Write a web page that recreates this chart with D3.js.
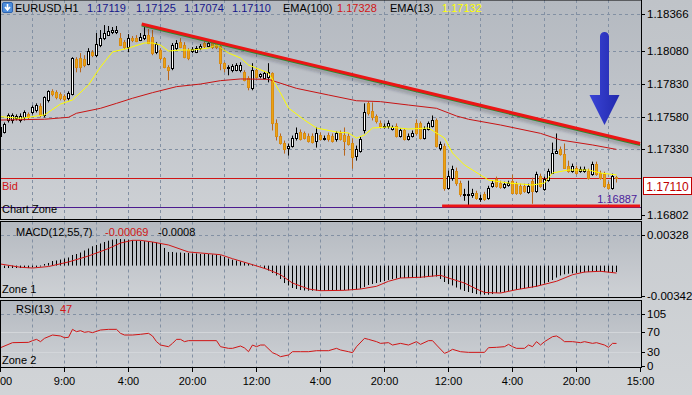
<!DOCTYPE html>
<html>
<head>
<meta charset="utf-8">
<script src="https://cdn.jsdelivr.net/npm/d3@7"></script>
<style>
  body { margin: 0; background: #c6c9cd; }
  svg text { font-family: "Liberation Sans", Arial, sans-serif; font-size: 11px; }
</style>
</head>
<body>
<svg id="chart" width="692" height="395"></svg>
<script>
// EURUSD H1 candles, oldest first (bar index = position)
const openP = [1.17434,1.17465,1.17550,1.17550,1.17565,1.17550,1.17573,1.17596,1.17611,1.17627,1.17658,1.17588,1.17704,1.17773,1.17765,1.17750,1.17735,1.17719,1.17750,1.18020,
  1.18027,1.18020,1.17981,1.18073,1.18050,1.18127,1.18181,1.18204,1.18227,1.18227,1.18181,1.18150,1.18112,1.18181,1.18181,1.18166,1.18181,1.18204,1.18189,1.18073,
  1.18089,1.18027,1.17958,1.17950,1.18104,1.18150,1.18127,1.18089,1.18081,1.18073,1.18104,1.18143,1.18120,1.18143,1.18135,1.18120,1.17989,1.17950,1.17935,1.17935,
  1.17935,1.17919,1.17873,1.17796,1.17935,1.17889,1.17873,1.17881,1.17912,1.17534,1.17434,1.17380,1.17342,1.17357,1.17419,1.17465,1.17450,1.17434,1.17434,1.17396,
  1.17442,1.17411,1.17442,1.17434,1.17404,1.17457,1.17442,1.17434,1.17380,1.17280,1.17319,1.17473,1.17681,1.17619,1.17581,1.17534,1.17496,1.17504,1.17488,1.17511,
  1.17434,1.17473,1.17411,1.17434,1.17534,1.17527,1.17419,1.17488,1.17511,1.17550,1.17342,1.17357,1.17034,1.17111,1.17165,1.17072,1.16980,1.16980,1.16980,1.16995,
  1.16949,1.16988,1.16957,1.17049,1.17103,1.17072,1.17042,1.17057,1.17088,1.17065,1.17049,1.17049,1.17003,1.17088,1.17011,1.17126,1.17026,1.17096,1.17149,1.17303,
  1.17334,1.17296,1.17203,1.17165,1.17188,1.17165,1.17165,1.17165,1.17142,1.17219,1.17149,1.17142,1.17065,1.17034,1.17119];
const highP = [1.17511,1.17534,1.17604,1.17604,1.17596,1.17604,1.17627,1.17611,1.17665,1.17681,1.17681,1.17735,1.17781,1.17789,1.17781,1.17765,1.17750,1.17773,1.18035,1.18035,
  1.18066,1.18050,1.18104,1.18089,1.18220,1.18243,1.18281,1.18274,1.18266,1.18274,1.18220,1.18166,1.18212,1.18197,1.18204,1.18220,1.18266,1.18251,1.18243,1.18150,
  1.18104,1.18035,1.17973,1.18143,1.18166,1.18181,1.18150,1.18104,1.18112,1.18120,1.18135,1.18158,1.18158,1.18158,1.18150,1.18135,1.17996,1.17973,1.17981,1.17989,
  1.17996,1.17935,1.17889,1.17989,1.17950,1.17912,1.17927,1.17989,1.17919,1.17558,1.17450,1.17396,1.17373,1.17434,1.17496,1.17481,1.17465,1.17450,1.17450,1.17496,
  1.17457,1.17434,1.17457,1.17450,1.17465,1.17473,1.17496,1.17450,1.17411,1.17357,1.17427,1.17681,1.17696,1.17688,1.17596,1.17550,1.17527,1.17550,1.17511,1.17527,
  1.17488,1.17488,1.17450,1.17473,1.17558,1.17542,1.17504,1.17542,1.17588,1.17565,1.17388,1.17373,1.17165,1.17203,1.17188,1.17088,1.17026,1.17088,1.17026,1.17011,
  1.16980,1.17003,1.17049,1.17088,1.17119,1.17088,1.17080,1.17088,1.17134,1.17080,1.17065,1.17065,1.17065,1.17111,1.17157,1.17142,1.17119,1.17180,1.17380,1.17450,
  1.17350,1.17373,1.17242,1.17219,1.17203,1.17196,1.17196,1.17180,1.17234,1.17234,1.17165,1.17157,1.17080,1.17142,1.17125];
const lowP = [1.17419,1.17450,1.17534,1.17527,1.17550,1.17534,1.17550,1.17558,1.17596,1.17611,1.17573,1.17573,1.17688,1.17735,1.17712,1.17704,1.17696,1.17704,1.17742,1.17919,
  1.17919,1.17958,1.17973,1.18035,1.18035,1.18112,1.18166,1.18197,1.18212,1.18212,1.18120,1.18097,1.18073,1.18150,1.18150,1.18158,1.18166,1.18135,1.18050,1.18058,
  1.18012,1.17950,1.17858,1.17935,1.18089,1.18104,1.18027,1.18012,1.18066,1.18066,1.18089,1.18104,1.18112,1.18097,1.18097,1.17935,1.17919,1.17896,1.17919,1.17927,
  1.17919,1.17850,1.17781,1.17781,1.17873,1.17873,1.17866,1.17842,1.17473,1.17396,1.17365,1.17296,1.17280,1.17342,1.17396,1.17396,1.17404,1.17380,1.17373,1.17342,
  1.17396,1.17396,1.17388,1.17380,1.17388,1.17396,1.17280,1.17357,1.17180,1.17242,1.17303,1.17450,1.17588,1.17550,1.17527,1.17488,1.17488,1.17488,1.17473,1.17419,
  1.17419,1.17396,1.17396,1.17419,1.17434,1.17404,1.17404,1.17473,1.17496,1.17342,1.17319,1.17011,1.17019,1.17088,1.17049,1.16965,1.16934,1.16895,1.16957,1.16942,
  1.16926,1.16934,1.16942,1.17034,1.17034,1.17026,1.17026,1.17042,1.16988,1.16980,1.16980,1.16995,1.16988,1.16911,1.16995,1.17034,1.17011,1.17080,1.17142,1.17296,
  1.17280,1.17180,1.17149,1.17149,1.17134,1.17149,1.17149,1.17096,1.17126,1.17126,1.17096,1.17034,1.17019,1.17019,1.17074];
const closeP = [1.17496,1.17519,1.17588,1.17588,1.17581,1.17581,1.17611,1.17573,1.17650,1.17665,1.17588,1.17727,1.17773,1.17750,1.17727,1.17719,1.17712,1.17758,1.18027,1.17958,
  1.17958,1.17973,1.18081,1.18050,1.18135,1.18181,1.18220,1.18235,1.18243,1.18243,1.18127,1.18112,1.18181,1.18166,1.18158,1.18189,1.18204,1.18143,1.18066,1.18135,
  1.18027,1.17958,1.17935,1.18127,1.18143,1.18112,1.18035,1.18027,1.18097,1.18104,1.18120,1.18120,1.18143,1.18112,1.18112,1.17989,1.17950,1.17958,1.17966,1.17973,
  1.17973,1.17858,1.17804,1.17935,1.17881,1.17904,1.17912,1.17919,1.17534,1.17434,1.17380,1.17334,1.17357,1.17419,1.17457,1.17411,1.17419,1.17396,1.17388,1.17450,
  1.17411,1.17419,1.17404,1.17396,1.17450,1.17411,1.17396,1.17373,1.17273,1.17334,1.17411,1.17611,1.17604,1.17573,1.17542,1.17504,1.17511,1.17534,1.17496,1.17434,
  1.17473,1.17411,1.17434,1.17457,1.17450,1.17419,1.17488,1.17527,1.17550,1.17357,1.17373,1.17034,1.17126,1.17180,1.17072,1.16988,1.16988,1.16988,1.16995,1.16957,
  1.16957,1.16949,1.17034,1.17072,1.17049,1.17042,1.17065,1.17072,1.16995,1.16995,1.16995,1.17011,1.17049,1.17011,1.17142,1.17049,1.17103,1.17165,1.17303,1.17319,
  1.17296,1.17188,1.17165,1.17203,1.17149,1.17180,1.17180,1.17111,1.17219,1.17142,1.17111,1.17049,1.17034,1.17126,1.17110];

// moving averages (bar index, price)
const ema100Bars = [0,11,17,19,25,29,33,38,44,50,55,60,67,74,82,89,95,102,109,114,117,125,135,140,148,154];
const ema100Vals = [1.17553,1.17559,1.17574,1.17605,1.17643,1.17681,1.17720,1.17763,1.17809,1.17829,1.17855,1.17868,1.17865,1.17796,1.17745,1.17701,1.17694,1.17668,1.17643,1.17584,1.17559,1.17515,1.17451,1.17400,1.17362,1.17328];
const ema13Bars = [0,5,11,15,18,22,25,28,32,36,38,40,42,45,48,52,54,57,60,62,67,70,72,76,79,84,87,89,91,93,97,102,107,111,113,116,118,122,127,133,136,138,142,147,150,154];
const ema13Vals = [1.17579,1.17566,1.17592,1.17676,1.17707,1.17822,1.17960,1.18075,1.18105,1.18144,1.18144,1.18128,1.18082,1.18090,1.18090,1.18105,1.18128,1.18067,1.18029,1.17975,1.17914,1.17760,1.17645,1.17553,1.17492,1.17461,1.17454,1.17415,1.17438,1.17492,1.17500,1.17484,1.17492,1.17415,1.17300,1.17208,1.17170,1.17093,1.17070,1.17055,1.17070,1.17147,1.17170,1.17170,1.17147,1.17132];

// MACD(12,55,7): main line drawn as histogram, one value per bar
const macdMain = [-0.00020,-0.00026,-0.00026,-0.00026,-0.00026,-0.00026,-0.00026,-0.00026,-0.00020,-0.00015,-0.00010,0.00017,0.00028,0.00049,0.00055,0.00065,0.00076,0.00087,0.00114,0.00124,
  0.00140,0.00162,0.00183,0.00207,0.00221,0.00237,0.00253,0.00267,0.00278,0.00283,0.00285,0.00282,0.00278,0.00271,0.00269,0.00266,0.00262,0.00258,0.00253,0.00248,
  0.00242,0.00189,0.00146,0.00146,0.00140,0.00140,0.00135,0.00135,0.00130,0.00130,0.00124,0.00124,0.00124,0.00119,0.00117,0.00108,0.00092,0.00076,0.00063,0.00055,
  0.00044,0.00033,0.00024,0.00012,0.00003,-0.00008,-0.00031,-0.00053,-0.00079,-0.00106,-0.00144,-0.00187,-0.00213,-0.00240,-0.00251,-0.00262,-0.00267,-0.00269,-0.00269,-0.00269,
  -0.00269,-0.00269,-0.00267,-0.00267,-0.00265,-0.00265,-0.00263,-0.00263,-0.00263,-0.00256,-0.00246,-0.00229,-0.00208,-0.00197,-0.00187,-0.00176,-0.00165,-0.00154,-0.00144,-0.00138,
  -0.00133,-0.00133,-0.00133,-0.00133,-0.00133,-0.00133,-0.00128,-0.00122,-0.00117,-0.00117,-0.00144,-0.00176,-0.00197,-0.00213,-0.00235,-0.00256,-0.00272,-0.00283,-0.00294,-0.00305,
  -0.00310,-0.00312,-0.00312,-0.00305,-0.00294,-0.00288,-0.00283,-0.00272,-0.00267,-0.00259,-0.00251,-0.00245,-0.00240,-0.00235,-0.00226,-0.00208,-0.00192,-0.00176,-0.00154,-0.00128,
  -0.00106,-0.00093,-0.00087,-0.00083,-0.00079,-0.00076,-0.00072,-0.00069,-0.00065,-0.00065,-0.00065,-0.00069,-0.00072,-0.00074,-0.00069];
const signalBars = [0,5,8,12,17,22,27,30,33,35,38,42,47,52,55,58,63,67,70,73,77,80,86,90,94,97,100,105,110,112,116,119,121,125,129,134,139,143,146,150,154];
const signalVals = [0.00017,-0.00018,-0.00026,-0.00010,0.00039,0.00103,0.00183,0.00242,0.00271,0.00271,0.00253,0.00221,0.00146,0.00128,0.00117,0.00074,0.00010,-0.00044,-0.00098,-0.00187,
  -0.00251,-0.00269,-0.00265,-0.00251,-0.00222,-0.00168,-0.00133,-0.00125,-0.00104,-0.00133,-0.00187,-0.00251,-0.00288,-0.00294,-0.00258,-0.00222,-0.00168,-0.00098,-0.00069,-0.00061,-0.00080];

// RSI(13)
const rsiBars = [0,3,7,8,9,10,11,13,15,16,17,18,19,20,21,22,23,25,27,29,30,31,33,35,37,38,39,40,42,43,44,45,46,47,54,55,57,58,60,61,62,63,64,65,66,68,69,70,72,73,75,77,79,82,84,85,87,88,89,91,92,94,95,97,98,100,102,104,105,107,108,109,111,112,113,115,117,121,122,124,126,127,128,129,131,132,133,134,135,136,138,139,140,141,143,145,146,148,149,151,152,153,154];
const rsiVals = [38.5,48.5,49.1,52.5,55.1,50.5,57.1,63.7,61.8,58.4,59.1,75,70.4,72.4,69.1,70.4,68.4,73.7,75,75,67.1,63.7,63.7,65.1,67.1,61.8,50.5,43.8,40.5,47.1,55.1,55.1,50.5,52.5,52.5,40.5,37.2,37.2,41.8,38,30.5,43.8,40.5,43.8,43.8,28.5,25.2,20.6,23.9,30.5,30.5,30.5,32.5,32.5,37.2,33.9,30.5,28.5,40.5,57.1,55.1,50.5,47.1,48.5,43.8,47.1,43.8,50.5,45.1,52.5,52.5,43.8,27.2,30.5,35.2,30.5,29.2,29.2,38.5,39.2,40.5,45.1,40.5,37.2,37.2,43.8,40.5,50.5,43.8,50.5,60.4,61.8,57.1,50.5,50.5,48.5,50.5,47.1,48.5,43.8,39.2,47.1,47];

// axis labels (the first time label is clipped by the window in the original, only "00" shows)
const priceTicks = [1.18366, 1.18080, 1.17830, 1.17580, 1.17330, 1.16802];
const macdTicks = [0.00328, -0.00342];
const rsiTicks = [105, 70, 30, 0];
const timeLabels = ["00", "9:00", "4:00", "20:00", "12:00", "4:00", "20:00", "12:00", "4:00", "20:00", "15:00"];
const timeLabelBars = [0, 16, 32, 48, 64, 80, 96, 112, 128, 144, 160];

// drawn objects
const bidPrice = 1.17110;
const zonePrice = 1.16887;
const trendLine = [{bar: 35.3, price: 1.18289}, {bar: 159.9, price: 1.17373}];
const supportLine = [{bar: 110.4, price: 1.16894}, {bar: 159.9, price: 1.16894}];
const arrow = {bar: 151, top: 1.18228, neck: 1.17745, tip: 1.17515};

const bearFill = "#e9a416", bearStroke = "#b8661c";
const gridColor = "#8290a3";
const red = "#d01515";

const chart = d3.select("#chart");
const defs = chart.append("defs");

const bgGrad = defs.append("linearGradient").attr("id", "bgGrad").attr("x1", 0).attr("y1", 0).attr("x2", 0).attr("y2", 1);
bgGrad.append("stop").attr("offset", "0%").attr("stop-color", "#bfc3c8");
bgGrad.append("stop").attr("offset", "100%").attr("stop-color", "#d1d4d7");
const panelGrad = defs.append("linearGradient").attr("id", "panelGrad").attr("x1", 0).attr("y1", 0).attr("x2", 0).attr("y2", 1);
panelGrad.append("stop").attr("offset", "0%").attr("stop-color", "#b4b9c0");
panelGrad.append("stop").attr("offset", "100%").attr("stop-color", "#ced1d5");
const arrowGrad = defs.append("linearGradient").attr("id", "arrowGrad").attr("x1", 0).attr("y1", 0).attr("x2", 1).attr("y2", 0);
arrowGrad.append("stop").attr("offset", "0%").attr("stop-color", "#3a44d6");
arrowGrad.append("stop").attr("offset", "100%").attr("stop-color", "#2229ad");
defs.append("clipPath").attr("id", "clipMain").append("rect").attr("x", 1).attr("y", 0).attr("width", 640).attr("height", 219);
defs.append("clipPath").attr("id", "clipMacd").append("rect").attr("x", 1).attr("y", 222).attr("width", 640).attr("height", 75);
defs.append("clipPath").attr("id", "clipRsi").append("rect").attr("x", 1).attr("y", 301).attr("width", 640).attr("height", 66);
const blur = defs.append("filter").attr("id", "soft").attr("x", "-10%").attr("y", "-50%").attr("width", "120%").attr("height", "200%");
blur.append("feGaussianBlur").attr("stdDeviation", 1.5);

chart.append("rect").attr("width", 692).attr("height", 395).attr("fill", "url(#bgGrad)");

// scales
const x = d3.scaleLinear().domain([0, 160]).range([0.5, 640.5]);
const yP = d3.scaleLinear().domain([1.16802, 1.18366]).range([218, 14]);
const yM = d3.scaleLinear().domain([-0.00342, 0.00328]).range([297.5, 235]);
const yR = d3.scaleLinear().domain([0, 105]).range([367, 314.3]);

const panels = [
  {top: 0, bottom: 219.5},
  {top: 221.5, bottom: 297.5},
  {top: 300.5, bottom: 367.5}
];
panels.forEach(p => {
  chart.append("rect").attr("x", 0.5).attr("y", p.top).attr("width", 641).attr("height", p.bottom - p.top)
    .attr("fill", "url(#panelGrad)");
});

// vertical grid
const gridBars = d3.range(8, 160, 8);
panels.forEach(p => {
  chart.append("g").selectAll("line").data(gridBars).join("line")
    .attr("x1", d => x(d)).attr("x2", d => x(d))
    .attr("y1", p.top).attr("y2", p.bottom)
    .attr("stroke", gridColor).attr("stroke-dasharray", "3,3");
});

// horizontal grid
const hGrid = chart.append("g").attr("stroke", gridColor).attr("stroke-dasharray", "3,3");
priceTicks.slice(0, 5).forEach(v => hGrid.append("line").attr("x1", 1).attr("x2", 641)
  .attr("y1", Math.round(yP(v)) + 0.5).attr("y2", Math.round(yP(v)) + 0.5));
hGrid.append("line").attr("x1", 1).attr("x2", 641).attr("y1", Math.round(yM(macdTicks[0])) + 0.5).attr("y2", Math.round(yM(macdTicks[0])) + 0.5);
hGrid.append("line").attr("x1", 1).attr("x2", 641).attr("y1", Math.round(yR(105)) + 0.5).attr("y2", Math.round(yR(105)) + 0.5);
[70, 30].forEach(v => chart.append("line").attr("x1", 1).attr("x2", 641)
  .attr("y1", Math.round(yR(v)) + 0.5).attr("y2", Math.round(yR(v)) + 0.5).attr("stroke", "#d3d6da"));

// ---- main panel ----
const mainG = chart.append("g").attr("clip-path", "url(#clipMain)");

mainG.append("line").attr("x1", 1).attr("x2", 641)
  .attr("y1", Math.round(yP(bidPrice)) + 0.5).attr("y2", Math.round(yP(bidPrice)) + 0.5).attr("stroke", red);
mainG.append("line").attr("x1", 1).attr("x2", 641)
  .attr("y1", Math.round(yP(zonePrice)) + 0.5).attr("y2", Math.round(yP(zonePrice)) + 0.5).attr("stroke", "#4b1b8f");

const bars = openP.map((o, i) => ({i, o, h: highP[i], l: lowP[i], c: closeP[i]}));
mainG.append("g").selectAll("line").data(bars).join("line")
  .attr("x1", d => x(d.i)).attr("x2", d => x(d.i))
  .attr("y1", d => yP(d.h)).attr("y2", d => yP(d.l))
  .attr("stroke", d => d.c >= d.o ? "#000" : bearStroke);
mainG.append("g").selectAll("rect").data(bars).join("rect")
  .attr("x", d => x(d.i) - 1)
  .attr("y", d => Math.round(yP(Math.max(d.o, d.c))) + 0.5)
  .attr("width", 2)
  .attr("height", d => Math.max(0, Math.round(yP(Math.min(d.o, d.c))) - Math.round(yP(Math.max(d.o, d.c)))))
  .attr("fill", d => d.c >= d.o ? "#fff" : bearFill)
  .attr("stroke", d => d.c >= d.o ? "#000" : "#d98c12");

const priceLine = d3.line().x(d => x(d[0])).y(d => yP(d[1]));
mainG.append("path").attr("d", priceLine(d3.zip(ema100Bars, ema100Vals)))
  .attr("fill", "none").attr("stroke", "#c81414");
mainG.append("path").attr("d", priceLine(d3.zip(ema13Bars, ema13Vals)))
  .attr("fill", "none").attr("stroke", "#ffff00");

// trend line with its shadow
const objLine = d3.line().x(d => x(d.bar)).y(d => yP(d.price));
mainG.append("path").attr("d", objLine(trendLine)).attr("transform", "translate(1,4)")
  .attr("stroke", "rgba(40,40,50,0.25)").attr("stroke-width", 4).attr("filter", "url(#soft)");
mainG.append("path").attr("d", objLine(trendLine)).attr("transform", "translate(0,1.5)")
  .attr("stroke", "#2f8a2f").attr("stroke-width", 2);
mainG.append("path").attr("d", objLine(trendLine)).attr("stroke", "#ec1515").attr("stroke-width", 3);

mainG.append("path").attr("d", objLine(supportLine)).attr("transform", "translate(1,3)")
  .attr("stroke", "rgba(40,40,50,0.25)").attr("stroke-width", 4).attr("filter", "url(#soft)");
mainG.append("path").attr("d", objLine(supportLine)).attr("stroke", "#ec1515").attr("stroke-width", 3);

// blue arrow
const ax = x(arrow.bar);
const arrowPath = d3.path();
arrowPath.moveTo(ax - 4.5, yP(arrow.neck));
arrowPath.lineTo(ax - 4.5, yP(arrow.top) + 4.5);
arrowPath.arc(ax, yP(arrow.top) + 4.5, 4.5, Math.PI, 0);
arrowPath.lineTo(ax + 4.5, yP(arrow.neck));
arrowPath.lineTo(ax + 15, yP(arrow.neck));
arrowPath.lineTo(ax, yP(arrow.tip));
arrowPath.lineTo(ax - 15, yP(arrow.neck));
arrowPath.closePath();
mainG.append("path").attr("d", arrowPath.toString()).attr("fill", "url(#arrowGrad)");

// labels inside main panel
chart.append("text").attr("x", 2).attr("y", 190).attr("fill", red).text("Bid");
chart.append("text").attr("x", 2).attr("y", 213).attr("fill", "#000").text("Chart Zone");
chart.append("text").attr("x", 637).attr("y", 203).attr("text-anchor", "end").attr("fill", "#4b1b9a").text(zonePrice.toFixed(5));

// header
const icon = chart.append("g");
icon.append("rect").attr("x", 2.5).attr("y", 2.5).attr("width", 10).attr("height", 10).attr("rx", 1.5)
  .attr("fill", "#4d8ddc").attr("stroke", "#2d64b0");
icon.append("path").attr("d", "M7.5,4 L7.5,9 M5,7 L7.5,10 L10,7").attr("stroke", "#fff").attr("stroke-width", 1.6).attr("fill", "none");
const header = [
  {x: 15, t: "EURUSD,H1", c: "#000"},
  {x: 87, t: "1.17119", c: "#16168a"},
  {x: 136, t: "1.17125", c: "#16168a"},
  {x: 184, t: "1.17074", c: "#16168a"},
  {x: 232, t: "1.17110", c: "#16168a"},
  {x: 283, t: "EMA(100)", c: "#000"},
  {x: 337, t: "1.17328", c: red},
  {x: 390, t: "EMA(13)", c: "#000"},
  {x: 442, t: "1.17132", c: "#ffff00"}
];
chart.append("g").selectAll("text").data(header).join("text")
  .attr("x", d => d.x).attr("y", 12).attr("fill", d => d.c).text(d => d.t);

// ---- MACD panel ----
const macdG = chart.append("g").attr("clip-path", "url(#clipMacd)");
macdG.append("g").selectAll("line").data(macdMain).join("line")
  .attr("x1", (d, i) => x(i)).attr("x2", (d, i) => x(i))
  .attr("y1", yM(0)).attr("y2", d => yM(d))
  .attr("stroke", "#000");
macdG.append("path")
  .attr("d", d3.line().x(d => x(d[0])).y(d => yM(d[1]))(d3.zip(signalBars, signalVals)))
  .attr("fill", "none").attr("stroke", red);
chart.append("text").attr("x", 16).attr("y", 236).text("MACD(12,55,7)");
chart.append("text").attr("x", 105).attr("y", 236).attr("fill", red).text("-0.00069");
chart.append("text").attr("x", 158).attr("y", 236).text("-0.0008");
chart.append("text").attr("x", 2).attr("y", 293).text("Zone 1");

// ---- RSI panel ----
const rsiG = chart.append("g").attr("clip-path", "url(#clipRsi)");
rsiG.append("path")
  .attr("d", d3.line().x(d => x(d[0])).y(d => yR(d[1]))(d3.zip(rsiBars, rsiVals)))
  .attr("fill", "none").attr("stroke", red);
chart.append("text").attr("x", 16).attr("y", 313).text("RSI(13)");
chart.append("text").attr("x", 60).attr("y", 313).attr("fill", red).text("47");
chart.append("text").attr("x", 2).attr("y", 364).text("Zone 2");

// panel borders
panels.forEach(p => {
  chart.append("rect").attr("x", 0.5).attr("y", p.top).attr("width", 641).attr("height", p.bottom - p.top)
    .attr("fill", "none").attr("stroke", "#000");
});

// right axis
const rightAxis = chart.append("g");
function axisLabels(ticks, scale, fmt, clampY) {
  ticks.forEach(v => {
    const yy = Math.min(Math.round(scale(v)), clampY);
    rightAxis.append("line").attr("x1", 641).attr("x2", 645).attr("y1", yy + 0.5).attr("y2", yy + 0.5).attr("stroke", "#000");
    rightAxis.append("text").attr("x", 647).attr("y", yy).attr("dy", "0.36em").style("font-size", "11.5px").text(fmt(v));
  });
}
axisLabels(priceTicks, yP, v => v.toFixed(5), 215);
axisLabels(macdTicks, yM, v => v.toFixed(5), 296);
axisLabels(rsiTicks, yR, v => String(v), 366);

// current price box
const by = Math.round(yP(bidPrice));
chart.append("rect").attr("x", 643.5).attr("y", by - 0.5).attr("width", 48).attr("height", 17)
  .attr("fill", "#fff").attr("stroke", "#c00000");
chart.append("text").attr("x", 667.5).attr("y", by + 12.5).attr("text-anchor", "middle").attr("fill", "#c00000")
  .style("font-size", "12px").text(bidPrice.toFixed(5));

// time axis
const timeG = chart.append("g");
timeG.selectAll("line").data(timeLabelBars).join("line")
  .attr("x1", d => x(d)).attr("x2", d => x(d)).attr("y1", 367.5).attr("y2", 372).attr("stroke", "#000");
timeG.selectAll("text").data(timeLabels).join("text")
  .attr("x", (d, i) => i === 0 ? 0 : x(timeLabelBars[i]))
  .attr("y", 385)
  .attr("text-anchor", (d, i) => i === 0 ? "start" : "middle")
  .text(d => d);
</script>
</body>
</html>
